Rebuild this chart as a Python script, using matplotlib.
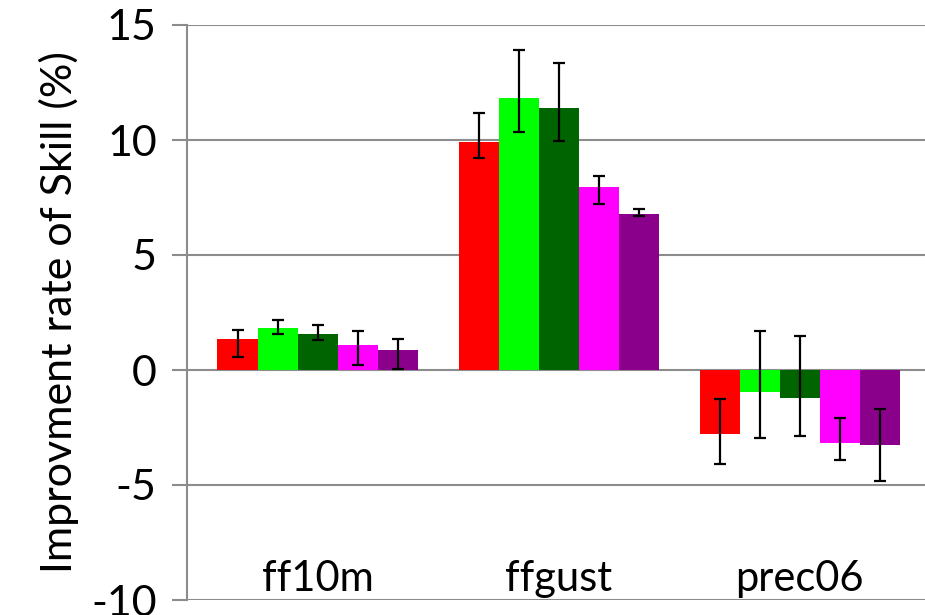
import matplotlib
matplotlib.use('Agg')
import matplotlib.pyplot as plt
import numpy as np

plt.rcParams['font.family'] = ['Lato', 'DejaVu Sans']

# skill improvement per variable, one list per experiment
categories = ['ff10m', 'ffgust', 'prec06']
series_colors = ['#ff0000', '#00ff00', '#006400', '#ff00ff', '#8b008b']

values = [
    [1.34, 9.93, -2.77],
    [1.83, 11.83, -0.94],
    [1.57, 11.39, -1.20],
    [1.09, 7.96, -3.16],
    [0.87, 6.78, -3.25],
]
# error bar extents below / above each bar
err_low = [
    [0.77, 0.73, 1.30],
    [0.25, 1.50, 2.03],
    [0.27, 1.43, 1.67],
    [0.89, 0.76, 0.75],
    [0.81, 0.10, 1.58],
]
err_high = [
    [0.40, 1.26, 1.50],
    [0.33, 2.07, 2.64],
    [0.37, 1.94, 2.69],
    [0.59, 0.49, 1.06],
    [0.46, 0.22, 1.57],
]
yticks = [-10, -5, 0, 5, 10, 15]

grey = '#8c8c8c'
fig = plt.figure(figsize=(9.25, 6.15), dpi=100)
ax = fig.add_axes([187 / 925, 15 / 615, 738 / 925, 575 / 615])

x = np.arange(len(categories))
w = 0.166
for i, (vals, lo, hi, col) in enumerate(zip(values, err_low, err_high, series_colors)):
    pos = x + (i - 2) * w
    ax.bar(pos, vals, width=w, color=col, zorder=2)
    ax.errorbar(pos, vals, yerr=[lo, hi], fmt='none', ecolor='black',
                elinewidth=1.6, capsize=4.3, capthick=1.6, zorder=3)

ax.set_xlim(-0.5415, 2.52)
ax.set_ylim(-10, 15)
ax.set_yticks(yticks)
ax.set_yticklabels([str(t) for t in yticks], fontsize=31)
ax.set_xticks([])

ax.grid(axis='y', color=grey, linewidth=1.5)
ax.set_axisbelow(True)
for side in ['top', 'right', 'bottom']:
    ax.spines[side].set_visible(False)
ax.spines['left'].set_color(grey)
ax.spines['left'].set_linewidth(1.5)
ax.tick_params(axis='y', length=10.8, width=1.5, color=grey, pad=11)

# category names sit at the bottom of the plot area
for xi, name in zip(x, categories):
    ax.text(xi, -9.6, name, ha='center', va='baseline', fontsize=30)

ax.set_ylabel('Improvment rate of Skill (%)', fontsize=31, labelpad=9)

fig.savefig('out.png', dpi=100)
